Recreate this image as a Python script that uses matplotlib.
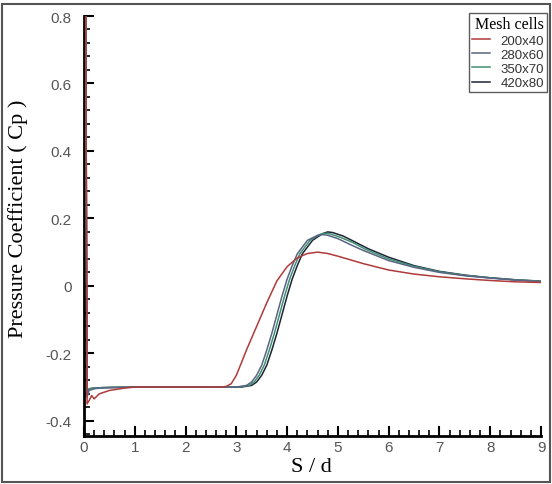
import matplotlib
matplotlib.use("Agg")
import matplotlib.pyplot as plt
from matplotlib.patches import Rectangle
from matplotlib.ticker import MultipleLocator

# ---------------------------- data ----------------------------
x_200 = [0.0, 0.03, 0.06, 0.1, 0.15, 0.2, 0.3, 0.5, 0.8, 1.0, 2.0, 2.7, 2.8, 2.9, 3.0, 3.1,
         3.2, 3.4, 3.6, 3.8, 4.0, 4.2, 4.4, 4.6, 4.8, 5.0, 5.5, 6.0, 6.5, 7.0, 7.5, 8.0, 8.5, 9.0]
cp_200 = [1.0, 1.0, -0.35, -0.34, -0.325, -0.335, -0.32, -0.31, -0.303, -0.30, -0.30, -0.30,
          -0.298, -0.29, -0.265, -0.228, -0.19, -0.12, -0.05, 0.015, 0.057, 0.083, 0.096,
          0.10, 0.096, 0.088, 0.066, 0.047, 0.035, 0.027, 0.021, 0.016, 0.012, 0.01]

x_280 = [0.0, 0.03, 0.06, 0.1, 0.2, 0.3, 0.5, 1.0, 2.0, 3.0, 3.2, 3.3, 3.4, 3.5, 3.6, 3.7, 3.8,
         3.9, 4.0, 4.1, 4.2, 4.4, 4.6, 4.7, 4.8, 5.0, 5.25, 5.5, 6.0, 6.5, 7.0, 7.5, 8.0, 8.5, 9.0]
cp_280 = [1.0, 1.0, -0.33, -0.31, -0.305, -0.303, -0.302, -0.30, -0.30, -0.30, -0.295, -0.285,
          -0.265, -0.235, -0.19, -0.14, -0.085, -0.03, 0.02, 0.06, 0.095, 0.135, 0.15, 0.152,
          0.15, 0.14, 0.122, 0.105, 0.075, 0.055, 0.04, 0.03, 0.023, 0.017, 0.013]

x_350 = [0.0, 0.03, 0.06, 0.1, 0.2, 0.3, 0.5, 1.0, 2.0, 3.05, 3.25, 3.35, 3.45, 3.55, 3.65,
         3.75, 3.85, 3.95, 4.05, 4.15, 4.25, 4.45, 4.65, 4.75, 4.85, 5.05, 5.3, 5.55, 6.0,
         6.5, 7.0, 7.5, 8.0, 8.5, 9.0]
cp_350 = [1.0, 1.0, -0.325, -0.305, -0.303, -0.302, -0.301, -0.30, -0.30, -0.30, -0.295,
          -0.285, -0.265, -0.235, -0.19, -0.14, -0.085, -0.03, 0.02, 0.06, 0.095, 0.135, 0.153,
          0.156, 0.154, 0.144, 0.128, 0.108, 0.08, 0.058, 0.042, 0.031, 0.024, 0.018, 0.014]

x_420 = [0.0, 0.03, 0.06, 0.1, 0.2, 0.3, 0.5, 1.0, 2.0, 3.1, 3.3, 3.4, 3.5, 3.6, 3.7, 3.8, 3.9,
         4.0, 4.1, 4.2, 4.3, 4.5, 4.7, 4.8, 4.9, 5.1, 5.3, 5.6, 6.0, 6.5, 7.0, 7.5, 8.0, 8.5, 9.0]
cp_420 = [1.0, 1.0, -0.32, -0.305, -0.303, -0.302, -0.301, -0.30, -0.30, -0.30, -0.295, -0.285,
          -0.265, -0.235, -0.19, -0.14, -0.085, -0.03, 0.02, 0.06, 0.095, 0.135, 0.155, 0.16,
          0.158, 0.148, 0.133, 0.11, 0.085, 0.06, 0.043, 0.032, 0.024, 0.018, 0.014]

labels = ["200x40", "280x60", "350x70", "420x80"]
colors = ["#b03a3a", "#5a6585", "#3f8f70", "#1c2436"]

# ---------------------------------------- plot ----------------------------------------
fig = plt.figure(figsize=(5.52, 4.85), dpi=100)
ax = fig.add_axes([84 / 552, 1 - 437 / 485, 457 / 552, 420 / 485])

series = [(x_200, cp_200), (x_280, cp_280), (x_350, cp_350), (x_420, cp_420)]
# coarse red mesh stays on top, like the reference
for (xs, ys), lab, c, z in zip(series, labels, colors, [4, 3, 2, 1]):
    ax.plot(xs, ys, color=c, lw=1.1, label=lab, zorder=z)

ax.set_xlim(0, 9)
ax.set_ylim(-0.445, 0.8)
ax.xaxis.set_major_locator(MultipleLocator(1))
ax.xaxis.set_minor_locator(MultipleLocator(0.2))
ax.yaxis.set_minor_locator(MultipleLocator(0.04))
ax.set_yticks([-0.4, -0.2, 0, 0.2, 0.4, 0.6, 0.8])
ax.set_yticklabels(["-0.4", "-0.2", "0", "0.2", "0.4", "0.6", "0.8"])

for s in ["top", "right"]:
    ax.spines[s].set_visible(False)
for s in ["left", "bottom"]:
    ax.spines[s].set_linewidth(2)
    ax.spines[s].set_zorder(0.5)

ax.tick_params(which="major", direction="in", length=7, width=1.5,
               labelsize=11, labelcolor="#555555", labelfontfamily="Liberation Sans")
ax.tick_params(which="minor", direction="in", length=4, width=1.2)
ax.tick_params(axis="y", which="major", pad=9)
ax.tick_params(axis="x", which="major", pad=3)

ax.set_xlabel("S / d", fontsize=16, family="Liberation Serif")
ax.set_ylabel("Pressure Coefficient ( Cp )", fontsize=16, family="Liberation Serif")
ax.xaxis.set_label_coords(0.497, -0.05)
ax.yaxis.set_label_coords(-0.122, 0.52)

leg = ax.legend(title="Mesh cells", loc="upper right", bbox_to_anchor=(547 / 552, 1 - 14 / 485),
                bbox_transform=fig.transFigure, borderaxespad=0, fancybox=False,
                prop={"family": "Liberation Sans", "size": 9.5}, handlelength=1.3,
                handletextpad=0.8, labelspacing=0.15, borderpad=0.25, alignment="right")
leg.get_title().set_fontfamily("Liberation Serif")
leg.get_title().set_fontsize(11.5)
leg.get_frame().set_edgecolor("#333333")
leg.get_frame().set_linewidth(1.0)
for t in leg.get_texts():
    t.set_color("#333333")

# outer frame of the picture
fig.patches.append(Rectangle((0.004, 0.004), 0.992, 0.985, transform=fig.transFigure,
                             fill=False, edgecolor="#555555", lw=1.5))

fig.savefig("out.png", dpi=100)
